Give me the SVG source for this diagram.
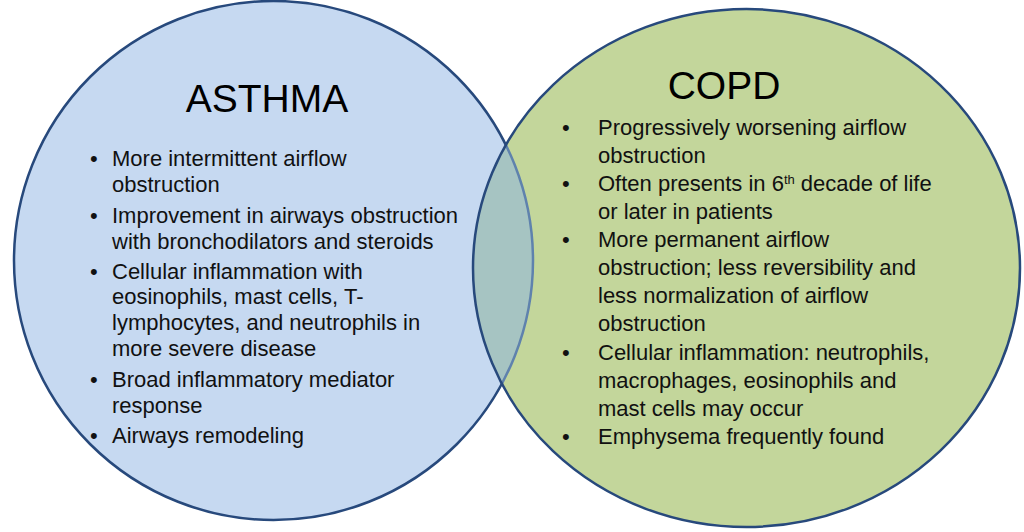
<svg xmlns="http://www.w3.org/2000/svg" width="1024" height="532" viewBox="0 0 1024 532">
<style>
.title{font-family:"Liberation Sans",Arial,sans-serif;font-size:39px;fill:#000;text-anchor:middle}
.body{font-family:"Liberation Sans",Arial,sans-serif;font-size:22px;fill:#111}
</style>
<defs>
<clipPath id="clipL"><circle cx="273.5" cy="260.5" r="259.5"/></clipPath>
<clipPath id="clipR"><ellipse cx="746.5" cy="268" rx="273.5" ry="259"/></clipPath>
</defs>
<rect width="1024" height="532" fill="#fff"/>
<g id="asthma-circle">
<circle cx="273.5" cy="260.5" r="259.5" fill="#c6d9f1" stroke="#27497c" stroke-width="2.5"/>
</g>
<g id="copd-circle">
<ellipse cx="746.5" cy="268" rx="273.5" ry="259" fill="#c3d69b"/>
</g>
<g id="overlap">
<ellipse cx="746.5" cy="268" rx="273.5" ry="259" fill="#a6c4c2" clip-path="url(#clipL)"/>
<circle cx="273.5" cy="260.5" r="259.5" fill="none" stroke="#5f82ad" stroke-width="2.5" clip-path="url(#clipR)"/>
<ellipse cx="746.5" cy="268" rx="273.5" ry="259" fill="none" stroke="#27497c" stroke-width="2.5"/>
</g>
<g id="asthma-text">
<text class="title" x="267" y="112">ASTHMA</text>
<g class="body">
<text x="90" y="166">•</text><text x="112" y="166">More intermittent airflow</text>
<text x="112" y="192">obstruction</text>
<text x="90" y="223">•</text><text x="112" y="223">Improvement in airways obstruction</text>
<text x="112" y="249">with bronchodilators and steroids</text>
<text x="90" y="279">•</text><text x="112" y="279">Cellular inflammation with</text>
<text x="112" y="304">eosinophils, mast cells, T-</text>
<text x="112" y="330">lymphocytes, and neutrophils in</text>
<text x="112" y="356">more severe disease</text>
<text x="90" y="387">•</text><text x="112" y="387">Broad inflammatory mediator</text>
<text x="112" y="413">response</text>
<text x="90" y="443">•</text><text x="112" y="443">Airways remodeling</text>
</g>
</g>
<g id="copd-text">
<text class="title" x="724" y="99">COPD</text>
<g class="body">
<text x="562" y="135">•</text><text x="598" y="135">Progressively worsening airflow</text>
<text x="598" y="163">obstruction</text>
<text x="562" y="191">•</text><text x="598" y="191">Often presents in 6<tspan dy="-7" font-size="13">th</tspan><tspan dy="7"> decade of life</tspan></text>
<text x="598" y="219">or later in patients</text>
<text x="562" y="247">•</text><text x="598" y="247">More permanent airflow</text>
<text x="598" y="275">obstruction; less reversibility and</text>
<text x="598" y="303">less normalization of airflow</text>
<text x="598" y="331">obstruction</text>
<text x="562" y="360">•</text><text x="598" y="360">Cellular inflammation: neutrophils,</text>
<text x="598" y="388">macrophages, eosinophils and</text>
<text x="598" y="416">mast cells may occur</text>
<text x="562" y="444">•</text><text x="598" y="444">Emphysema frequently found</text>
</g>
</g>
</svg>
